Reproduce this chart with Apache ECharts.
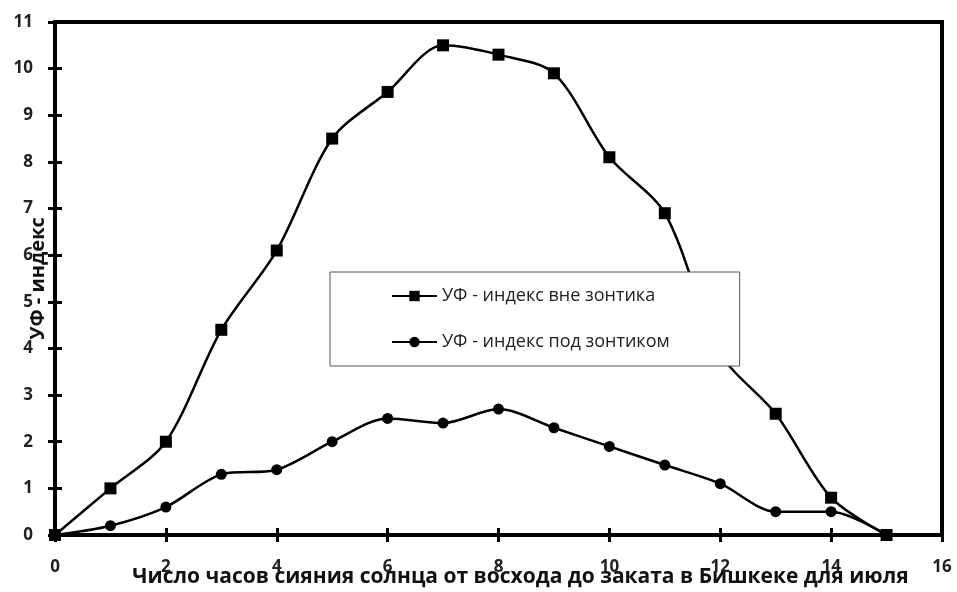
<!DOCTYPE html>
<html>
<head>
<meta charset="utf-8">
<script src="https://cdn.jsdelivr.net/npm/echarts@6/dist/echarts.min.js"></script>
<style>
html,body{margin:0;padding:0;background:#fff;}
#c{width:957px;height:592px;}
</style>
</head>
<body>
<div id="c"></div>
<script>
// Data
const hours = [0,1,2,3,4,5,6,7,8,9,10,11,12,13,14,15];
const outsideUmbrella = [0,1.0,2.0,4.4,6.1,8.5,9.5,10.5,10.3,9.9,8.1,6.9,3.9,2.6,0.8,0];
const underUmbrella = [0,0.2,0.6,1.3,1.4,2.0,2.5,2.4,2.7,2.3,1.9,1.5,1.1,0.5,0.5,0];
const seriesNames = ['УФ - индекс вне зонтика','УФ - индекс под зонтиком'];
const xAxisTitle = 'Число часов сияния солнца от восхода до заката в Бишкеке для июля';
const yAxisTitle = 'УФ - индекс';

const FONT = 'Open Sans';
const chart = echarts.init(document.getElementById('c'), null, {renderer:'canvas'});

function pairs(xs, ys){ return xs.map((x,i)=>[x, ys[i]]); }

const tickLabel = {fontFamily:FONT, fontWeight:'bold', fontSize:17, color:'#222'};

chart.setOption({
  animation:false,
  backgroundColor:'#fff',
  grid:{left:55, right:15, top:22, bottom:57, show:true, borderColor:'#000', borderWidth:4, containLabel:false, outerBoundsMode:'none'},
  legend:{
    orient:'vertical',
    left:330, top:272,
    backgroundColor:'#fff',
    borderColor:'#555', borderWidth:1,
    padding:[15, 70, 15, 61],
    itemWidth:45, itemHeight:13, itemGap:28,
    textStyle:{fontFamily:FONT, fontSize:18, color:'#222'},
    data:seriesNames
  },
  xAxis:[{
    type:'value', min:0, max:16, interval:2,
    axisLine:{show:true, lineStyle:{color:'#000', width:4}},
    axisTick:{show:true, inside:false, length:7, lineStyle:{color:'#000', width:3}},
    axisLabel:Object.assign({margin:24}, tickLabel),
    splitLine:{show:false},
    name:xAxisTitle, nameLocation:'middle', nameGap:32, nameMoveOverlap:false,
    nameTextStyle:{fontFamily:FONT, fontWeight:'bold', fontSize:21, color:'#111', padding:[0,0,0,44]}
  },{
    type:'value', min:0, max:16, interval:2, position:'bottom',
    axisLine:{show:false},
    axisTick:{show:true, inside:true, length:7, lineStyle:{color:'#000', width:3}},
    axisLabel:{show:false}, splitLine:{show:false}
  }],
  yAxis:[{
    type:'value', min:0, max:11, interval:1,
    axisLine:{show:true, lineStyle:{color:'#000', width:4}},
    axisTick:{show:true, inside:false, length:7, lineStyle:{color:'#000', width:3}},
    axisLabel:Object.assign({margin:22}, tickLabel),
    splitLine:{show:false},
    name:yAxisTitle, nameLocation:'middle', nameGap:7, nameRotate:90, nameMoveOverlap:false,
    nameTextStyle:{fontFamily:FONT, fontWeight:'bold', fontSize:20, color:'#111'}
  },{
    type:'value', min:0, max:11, interval:1, position:'left',
    axisLine:{show:false},
    axisTick:{show:true, inside:true, length:7, lineStyle:{color:'#000', width:3}},
    axisLabel:{show:false}, splitLine:{show:false}
  }],
  series:[{
    name:seriesNames[0], type:'line', smooth:0.3,
    data:pairs(hours, outsideUmbrella),
    symbol:'rect', symbolSize:12,
    lineStyle:{color:'#000', width:2.5},
    itemStyle:{color:'#000'}, z:3
  },{
    name:seriesNames[1], type:'line', smooth:0.3,
    data:pairs(hours, underUmbrella),
    symbol:'circle', symbolSize:11,
    lineStyle:{color:'#000', width:2.5},
    itemStyle:{color:'#000'}, z:3
  }]
});
</script>
</body>
</html>
